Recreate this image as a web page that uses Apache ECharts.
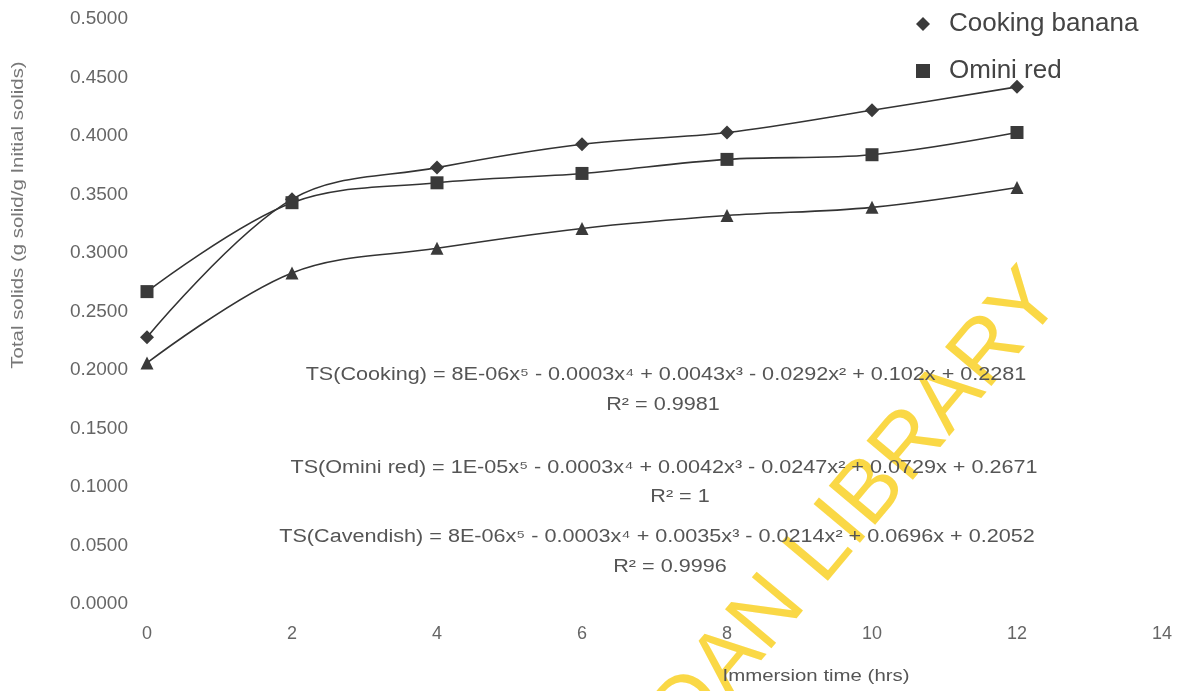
<!DOCTYPE html>
<html>
<head>
<meta charset="utf-8">
<title>Total solids vs immersion time</title>
<script src="https://cdn.jsdelivr.net/npm/echarts@6/dist/echarts.min.js"></script>
<style>
  html, body { margin: 0; padding: 0; background: #fff; }
  #chart { width: 1192px; height: 691px; }
</style>
</head>
<body>
<div id="chart"></div>
<script>
// immersion time (hrs)
var hours = [0, 2, 4, 6, 8, 10, 12];
// total solids (g solid / g initial solids)
var cookingBanana = [0.228, 0.346, 0.373, 0.393, 0.403, 0.422, 0.442];
var ominiRed = [0.267, 0.343, 0.360, 0.368, 0.380, 0.384, 0.403];
var cavendish = [0.206, 0.283, 0.304, 0.321, 0.332, 0.339, 0.356];

var equations = [
    'TS(Cooking) = 8E-06x\u2075 - 0.0003x\u2074 + 0.0043x\u00b3 - 0.0292x\u00b2 + 0.102x + 0.2281',
    'R\u00b2 = 0.9981',
    'TS(Omini red) = 1E-05x\u2075 - 0.0003x\u2074 + 0.0042x\u00b3 - 0.0247x\u00b2 + 0.0729x + 0.2671',
    'R\u00b2 = 1',
    'TS(Cavendish) = 8E-06x\u2075 - 0.0003x\u2074 + 0.0035x\u00b3 - 0.0214x\u00b2 + 0.0696x + 0.2052',
    'R\u00b2 = 0.9996'
];

function pairs(ys) {
    return hours.map(function (h, i) { return [h, ys[i]]; });
}

var dom = document.getElementById('chart');
var myChart = echarts.init(dom);

var FONT = '"Liberation Sans", Arial, sans-serif';
var eqPos = [[666, 375], [663, 405], [664, 468], [680, 497], [657, 537], [670, 567]];

var graphics = [];

// library watermark, sits under the text
graphics.push({
    type: 'text',
    x: 812,
    y: 562,
    rotation: 50 * Math.PI / 180,
    z: 1,
    style: {
        text: 'IBADAN LIBRARY',
        font: '88px ' + FONT,
        fill: 'rgba(250, 212, 50, 0.9)',
        align: 'center',
        verticalAlign: 'middle'
    }
});

equations.forEach(function (t, i) {
    graphics.push({
        type: 'text',
        x: eqPos[i][0],
        y: eqPos[i][1],
        z: 10,
        scaleX: 1.2,
        style: {
            text: t,
            font: '18px ' + FONT,
            fill: '#555',
            align: 'center',
            verticalAlign: 'middle'
        }
    });
});

// y axis title
graphics.push({
    type: 'text',
    x: 18,
    y: 215,
    rotation: Math.PI / 2,
    scaleX: 1.2,
    style: {
        text: 'Total solids (g solid/g Initial solids)',
        font: '17px ' + FONT,
        fill: '#777',
        align: 'center',
        verticalAlign: 'middle'
    }
});
// x axis title
graphics.push({
    type: 'text',
    x: 816,
    y: 676,
    z: 10,
    scaleX: 1.2,
    style: {
        text: 'Immersion time (hrs)',
        font: '17px ' + FONT,
        fill: '#555',
        align: 'center',
        verticalAlign: 'middle'
    }
});

var option = {
    backgroundColor: '#fff',
    animation: false,
    grid: { left: 147, right: 30, top: 19, bottom: 87 },
    legend: {
        orient: 'vertical',
        left: 911,
        top: 6,
        itemGap: 21,
        itemWidth: 14,
        itemHeight: 14,
        textStyle: { fontFamily: FONT, fontSize: 26, color: '#444', padding: [0, 0, 0, 14] },
        data: [
            { name: 'Cooking banana', icon: 'diamond' },
            { name: 'Omini red', icon: 'rect' }
        ]
    },
    xAxis: {
        type: 'value',
        min: 0,
        max: 14,
        interval: 2,
        axisLine: { show: false },
        axisTick: { show: false },
        splitLine: { show: false },
        axisLabel: { fontFamily: FONT, fontSize: 18, color: '#666', margin: 21 }
    },
    yAxis: {
        type: 'value',
        min: 0,
        max: 0.5,
        interval: 0.05,
        axisLine: { show: false },
        axisTick: { show: false },
        splitLine: { show: false },
        axisLabel: {
            fontFamily: FONT,
            fontSize: 19,
            color: '#666',
            margin: 19,
            formatter: function (v) { return v.toFixed(4); }
        }
    },
    graphic: graphics,
    series: [
        {
            name: 'Cooking banana',
            type: 'line',
            smooth: 0.35,
            symbol: 'diamond',
            symbolSize: 14,
            data: pairs(cookingBanana),
            lineStyle: { color: '#333', width: 1.6 },
            itemStyle: { color: '#3a3a3a' }
        },
        {
            name: 'Omini red',
            type: 'line',
            smooth: 0.35,
            symbol: 'rect',
            symbolSize: 13,
            data: pairs(ominiRed),
            lineStyle: { color: '#333', width: 1.6 },
            itemStyle: { color: '#3a3a3a' }
        },
        {
            name: 'Cavendish',
            type: 'line',
            smooth: 0.35,
            symbol: 'triangle',
            symbolSize: 13,
            data: pairs(cavendish),
            lineStyle: { color: '#333', width: 1.6 },
            itemStyle: { color: '#3a3a3a' }
        }
    ]
};

if (option && typeof option === 'object') {
    myChart.setOption(option, true);
}
</script>
</body>
</html>
